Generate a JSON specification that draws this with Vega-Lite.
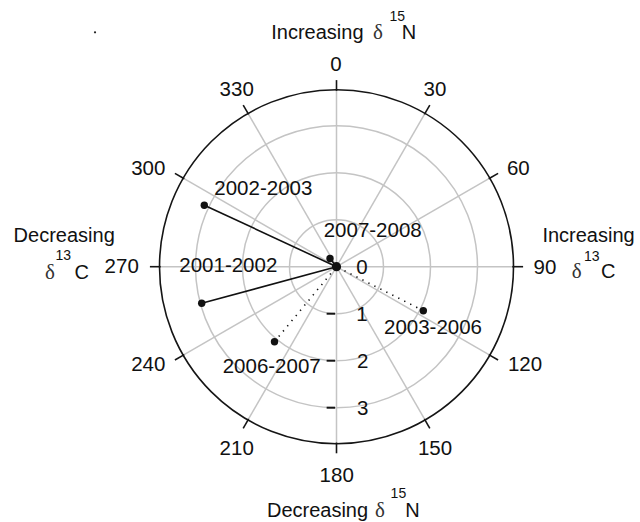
{
  "$schema": "https://vega.github.io/schema/vega-lite/v6.json",
  "width": 640,
  "height": 522,
  "padding": 0,
  "autosize": {"type": "none"},
  "config": {
    "view": {"stroke": null},
    "axis": {"disable": true},
    "text": {"font": "Liberation Sans", "color": "#111111"}
  },
  "layer": [
    {
      "data": {"values": [{"r": 1}, {"r": 2}, {"r": 3}]},
      "mark": {"type": "point", "shape": "circle", "filled": false, "stroke": "#c4c4c4", "strokeWidth": 1.5, "opacity": 1},
      "encoding": {
        "x": {"datum": 0, "type": "quantitative", "scale": {"domain": [-7.1596, 6.4574], "nice": false, "zero": false}, "axis": null},
        "y": {"datum": 0, "type": "quantitative", "scale": {"domain": [-5.4319, 5.6745], "nice": false, "zero": false}, "axis": null},
        "size": {"field": "r", "type": "quantitative", "scale": {"type": "pow", "exponent": 2, "domain": [0, 4], "range": [0, 141376]}, "legend": null}
      }
    },
    {
      "data": {"values": [
        {"angle": "0-180", "x": 0, "y": 3.766, "x2": 0, "y2": -3.766},
        {"angle": "30-210", "x": 1.883, "y": 3.261, "x2": -1.883, "y2": -3.261},
        {"angle": "60-240", "x": 3.261, "y": 1.883, "x2": -3.261, "y2": -1.883},
        {"angle": "90-270", "x": 3.766, "y": 0, "x2": -3.766, "y2": 0},
        {"angle": "120-300", "x": 3.261, "y": -1.883, "x2": -3.261, "y2": 1.883},
        {"angle": "150-330", "x": 1.883, "y": -3.261, "x2": -1.883, "y2": 3.261}
      ]},
      "mark": {"type": "rule", "stroke": "#c4c4c4", "strokeWidth": 1.5},
      "encoding": {
        "x": {"field": "x", "type": "quantitative", "axis": null},
        "y": {"field": "y", "type": "quantitative", "axis": null},
        "x2": {"field": "x2"},
        "y2": {"field": "y2"}
      }
    },
    {
      "data": {"values": [{"r": 3.766}]},
      "mark": {"type": "point", "shape": "circle", "filled": false, "stroke": "#151515", "strokeWidth": 1.6, "opacity": 1},
      "encoding": {
        "x": {"datum": 0, "type": "quantitative", "axis": null},
        "y": {"datum": 0, "type": "quantitative", "axis": null},
        "size": {"field": "r", "type": "quantitative", "legend": null}
      }
    },
    {
      "data": {"values": [
        {"angle": 0, "x": 0, "y": 3.74, "x2": 0, "y2": 3.97},
        {"angle": 30, "x": 1.87, "y": 3.239, "x2": 1.985, "y2": 3.438},
        {"angle": 60, "x": 3.239, "y": 1.87, "x2": 3.438, "y2": 1.985},
        {"angle": 90, "x": 3.74, "y": 0, "x2": 3.97, "y2": 0},
        {"angle": 120, "x": 3.239, "y": -1.87, "x2": 3.438, "y2": -1.985},
        {"angle": 150, "x": 1.87, "y": -3.239, "x2": 1.985, "y2": -3.438},
        {"angle": 180, "x": 0, "y": -3.74, "x2": 0, "y2": -3.97},
        {"angle": 210, "x": -1.87, "y": -3.239, "x2": -1.985, "y2": -3.438},
        {"angle": 240, "x": -3.239, "y": -1.87, "x2": -3.438, "y2": -1.985},
        {"angle": 270, "x": -3.74, "y": 0, "x2": -3.97, "y2": 0},
        {"angle": 300, "x": -3.239, "y": 1.87, "x2": -3.438, "y2": 1.985},
        {"angle": 330, "x": -1.87, "y": 3.239, "x2": -1.985, "y2": 3.438}
      ]},
      "mark": {"type": "rule", "stroke": "#151515", "strokeWidth": 1.6},
      "encoding": {
        "x": {"field": "x", "type": "quantitative", "axis": null},
        "y": {"field": "y", "type": "quantitative", "axis": null},
        "x2": {"field": "x2"},
        "y2": {"field": "y2"}
      }
    },
    {
      "data": {"values": [
        {"r": 1, "x": -0.21, "x2": -0.03, "y": -1},
        {"r": 2, "x": -0.21, "x2": -0.03, "y": -2},
        {"r": 3, "x": -0.21, "x2": -0.03, "y": -3}
      ]},
      "mark": {"type": "rule", "stroke": "#151515", "strokeWidth": 2},
      "encoding": {
        "x": {"field": "x", "type": "quantitative", "axis": null},
        "y": {"field": "y", "type": "quantitative", "axis": null},
        "x2": {"field": "x2"}
      }
    },
    {
      "data": {"name": "periods", "values": [
        {"period": "2002-2003", "x": -2.813, "y": 1.309},
        {"period": "2001-2002", "x": -2.868, "y": -0.779},
        {"period": "2007-2008", "x": -0.138, "y": 0.175},
        {"period": "2003-2006", "x": 1.847, "y": -0.936},
        {"period": "2006-2007", "x": -1.319, "y": -1.596}
      ]},
      "layer": [
        {
          "transform": [{"filter": {"field": "period", "oneOf": ["2002-2003", "2001-2002", "2007-2008"]}}],
          "mark": {"type": "rule", "stroke": "#111111", "strokeWidth": 1.6},
          "encoding": {
            "x": {"field": "x", "type": "quantitative", "axis": null},
            "y": {"field": "y", "type": "quantitative", "axis": null},
            "x2": {"datum": 0},
            "y2": {"datum": 0}
          }
        },
        {
          "transform": [{"filter": {"field": "period", "oneOf": ["2003-2006", "2006-2007"]}}],
          "mark": {"type": "rule", "stroke": "#111111", "strokeWidth": 1.6, "strokeDash": [1.3, 5.4]},
          "encoding": {
            "x": {"field": "x", "type": "quantitative", "axis": null},
            "y": {"field": "y", "type": "quantitative", "axis": null},
            "x2": {"datum": 0},
            "y2": {"datum": 0}
          }
        },
        {
          "mark": {"type": "circle", "color": "#111111", "opacity": 1, "size": 55},
          "encoding": {
            "x": {"field": "x", "type": "quantitative", "axis": null},
            "y": {"field": "y", "type": "quantitative", "axis": null}
          }
        }
      ]
    },
    {
      "data": {"values": [{"label": "origin", "x": 0, "y": 0}]},
      "mark": {"type": "circle", "color": "#111111", "opacity": 1, "size": 85},
      "encoding": {
        "x": {"field": "x", "type": "quantitative", "axis": null},
        "y": {"field": "y", "type": "quantitative", "axis": null}
      }
    },
    {
      "data": {"values": [{"label": "stray dot", "x": -5.138, "y": 4.987}]},
      "mark": {"type": "circle", "color": "#222222", "opacity": 1, "size": 5},
      "encoding": {
        "x": {"field": "x", "type": "quantitative", "axis": null},
        "y": {"field": "y", "type": "quantitative", "axis": null}
      }
    },
    {
      "data": {"values": [
        {"text": "0", "x": -0.011, "y": 4.291},
        {"text": "30", "x": 2.096, "y": 3.76},
        {"text": "60", "x": 3.868, "y": 2.072},
        {"text": "90", "x": 4.436, "y": -0.034},
        {"text": "120", "x": 4.011, "y": -2.091},
        {"text": "150", "x": 2.096, "y": -3.885},
        {"text": "180", "x": 0.004, "y": -4.453},
        {"text": "210", "x": -2.123, "y": -3.885},
        {"text": "240", "x": -4.004, "y": -2.091},
        {"text": "270", "x": -4.57, "y": -0.013},
        {"text": "300", "x": -4.004, "y": 2.072},
        {"text": "330", "x": -2.123, "y": 3.76},
        {"text": "0", "x": 0.54, "y": -0.02},
        {"text": "1", "x": 0.54, "y": -1.02},
        {"text": "2", "x": 0.56, "y": -2.02},
        {"text": "3", "x": 0.56, "y": -3.02},
        {"text": "2002-2003", "x": -1.557, "y": 1.647},
        {"text": "2007-2008", "x": 0.77, "y": 0.766},
        {"text": "2001-2002", "x": -2.302, "y": 0.015},
        {"text": "2003-2006", "x": 2.053, "y": -1.304},
        {"text": "2006-2007", "x": -1.379, "y": -2.128}
      ]},
      "mark": {"type": "text", "fontSize": 20.5, "align": "center", "baseline": "middle"},
      "encoding": {
        "x": {"field": "x", "type": "quantitative", "axis": null},
        "y": {"field": "y", "type": "quantitative", "axis": null},
        "text": {"field": "text"}
      }
    },
    {
      "data": {"values": [
        {"text": "Increasing", "x": -0.407, "y": 4.838},
        {"text": "N", "x": 1.54, "y": 4.838},
        {"text": "Decreasing", "x": -0.404, "y": -5.332},
        {"text": "N", "x": 1.617, "y": -5.332},
        {"text": "Decreasing", "x": -5.794, "y": 0.532},
        {"text": "C", "x": -5.421, "y": -0.268},
        {"text": "Increasing", "x": 5.362, "y": 0.532},
        {"text": "C", "x": 5.783, "y": -0.247}
      ]},
      "mark": {"type": "text", "fontSize": 20, "align": "center", "baseline": "alphabetic"},
      "encoding": {
        "x": {"field": "x", "type": "quantitative", "axis": null},
        "y": {"field": "y", "type": "quantitative", "axis": null},
        "text": {"field": "text"}
      }
    },
    {
      "data": {"values": [
        {"text": "δ", "x": 0.883, "y": 4.838},
        {"text": "δ", "x": 0.926, "y": -5.332},
        {"text": "δ", "x": -6.096, "y": -0.268},
        {"text": "δ", "x": 5.111, "y": -0.247}
      ]},
      "mark": {"type": "text", "fontSize": 21, "font": "Liberation Serif", "align": "center", "baseline": "alphabetic", "color": "#333333"},
      "encoding": {
        "x": {"field": "x", "type": "quantitative", "axis": null},
        "y": {"field": "y", "type": "quantitative", "axis": null},
        "text": {"field": "text"}
      }
    },
    {
      "data": {"values": [
        {"text": "15", "x": 1.291, "y": 5.234},
        {"text": "15", "x": 1.317, "y": -4.928},
        {"text": "13", "x": -5.813, "y": 0.143},
        {"text": "13", "x": 5.43, "y": 0.128}
      ]},
      "mark": {"type": "text", "fontSize": 14, "align": "center", "baseline": "alphabetic"},
      "encoding": {
        "x": {"field": "x", "type": "quantitative", "axis": null},
        "y": {"field": "y", "type": "quantitative", "axis": null},
        "text": {"field": "text"}
      }
    }
  ]
}
